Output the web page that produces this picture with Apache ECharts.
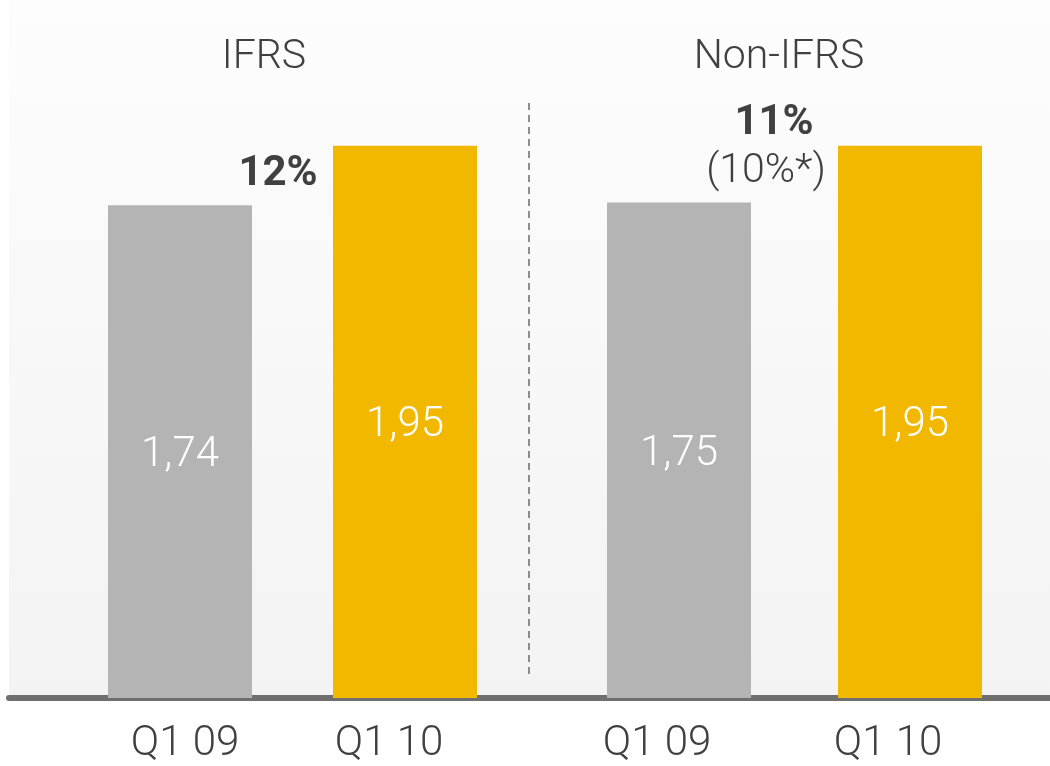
<!DOCTYPE html>
<html>
<head>
<meta charset="utf-8">
<script src="https://cdn.jsdelivr.net/npm/echarts@6/dist/echarts.min.js"></script>
<style>
  html, body { margin: 0; padding: 0; background: #fff; }
  #chart { width: 1050px; height: 766px; }
</style>
</head>
<body>
<div id="chart"></div>
<script>
// data
const categories = ["Q1 09", "Q1 10"];
const ifrsValues = [1.74, 1.95];
const nonIfrsValues = [1.75, 1.95];
const barColors = ["#b4b4b4", "#f2b800"];
const panelTitles = ["IFRS", "Non-IFRS"];
const ifrsGrowth = "12%";
const nonIfrsGrowth = "11%";
const nonIfrsGrowthNote = "(10%*)";

const FONT = "Roboto, 'Liberation Sans', sans-serif";
const TEXT = "#404040";

function fmt(v) {
  return v.toFixed(2).replace(".", ",");
}

function labelStyle(shifts) {
  // shifts: per category horizontal padding [left, right]
  const rich = {};
  shifts.forEach((s, i) => {
    rich["c" + i] = {
      fontSize: 42, fontFamily: FONT, fontWeight: 300, color: TEXT,
      padding: [0, s[1], 0, s[0]]
    };
  });
  return {
    margin: 25,
    formatter: (v, i) => "{c" + i + "|" + v + "}",
    rich: rich
  };
}

function barSeries(idx, values) {
  return {
    type: "bar",
    xAxisIndex: idx,
    yAxisIndex: idx,
    barWidth: 144,
    data: values.map((v, i) => ({ value: v, itemStyle: { color: barColors[i] } })),
    label: {
      show: true,
      position: "inside",
      offset: [0, 4],
      color: "#fff",
      fontSize: 42,
      fontFamily: FONT,
      fontWeight: 300,
      formatter: p => fmt(p.value)
    }
  };
}

const hiddenY = { type: "value", min: 0, max: 2.2, show: false };

const option = {
  backgroundColor: "#ffffff",
  animation: false,
  grid: [
    { left: 67.5, right: 532.5, top: 75, bottom: 68 },
    { left: 563.5, right: 24.5, top: 75, bottom: 68 },
    {
      left: 9, right: 0, top: 0, bottom: 68, show: true, borderWidth: 0, z: -1,
      backgroundColor: new echarts.graphic.LinearGradient(0, 0, 0, 1, [
        { offset: 0, color: "#fdfdfd" },
        { offset: 1, color: "#f3f3f3" }
      ])
    }
  ],
  xAxis: [
    {
      type: "category", gridIndex: 0, data: categories,
      axisLine: { show: false }, axisTick: { show: false },
      axisLabel: labelStyle([[10, 0], [0, 32]])
    },
    {
      type: "category", gridIndex: 1, data: categories,
      axisLine: { show: false }, axisTick: { show: false },
      axisLabel: labelStyle([[0, 44], [0, 44]])
    },
    {
      type: "category", gridIndex: 2, data: [""],
      axisLine: { show: true, lineStyle: { color: "#6f6f6f", width: 6 } },
      axisTick: { show: false }, axisLabel: { show: false }
    }
  ],
  yAxis: [
    Object.assign({ gridIndex: 0 }, hiddenY),
    Object.assign({ gridIndex: 1 }, hiddenY),
    Object.assign({ gridIndex: 2 }, hiddenY)
  ],
  series: [
    barSeries(0, ifrsValues),
    barSeries(1, nonIfrsValues)
  ],
  graphic: [
    {
      type: "text", x: 264, y: 58,
      style: { text: panelTitles[0], fill: TEXT, fontSize: 41, fontFamily: FONT, fontWeight: 300, textAlign: "center", textVerticalAlign: "middle" }
    },
    {
      type: "text", x: 779, y: 58,
      style: { text: panelTitles[1], fill: TEXT, fontSize: 41, fontFamily: FONT, fontWeight: 300, textAlign: "center", textVerticalAlign: "middle" }
    },
    {
      type: "line",
      shape: { x1: 529, y1: 103, x2: 529, y2: 679 },
      style: { stroke: "#6a6a6a", lineWidth: 1.5, lineDash: [7, 5] }
    },
    {
      type: "text", x: 278, y: 174,
      style: { text: ifrsGrowth, fill: TEXT, fontSize: 42, fontFamily: FONT, fontWeight: "bold", textAlign: "center", textVerticalAlign: "middle" }
    },
    {
      type: "text", x: 774, y: 123,
      style: { text: nonIfrsGrowth, fill: TEXT, fontSize: 42, fontFamily: FONT, fontWeight: "bold", textAlign: "center", textVerticalAlign: "middle" }
    },
    {
      type: "text", x: 766, y: 172,
      style: { text: nonIfrsGrowthNote, fill: TEXT, fontSize: 41, fontFamily: FONT, fontWeight: 300, textAlign: "center", textVerticalAlign: "middle" }
    }
  ]
};

const chart = echarts.init(document.getElementById("chart"));
chart.setOption(option);
window.addEventListener("resize", () => chart.resize());
</script>
</body>
</html>
